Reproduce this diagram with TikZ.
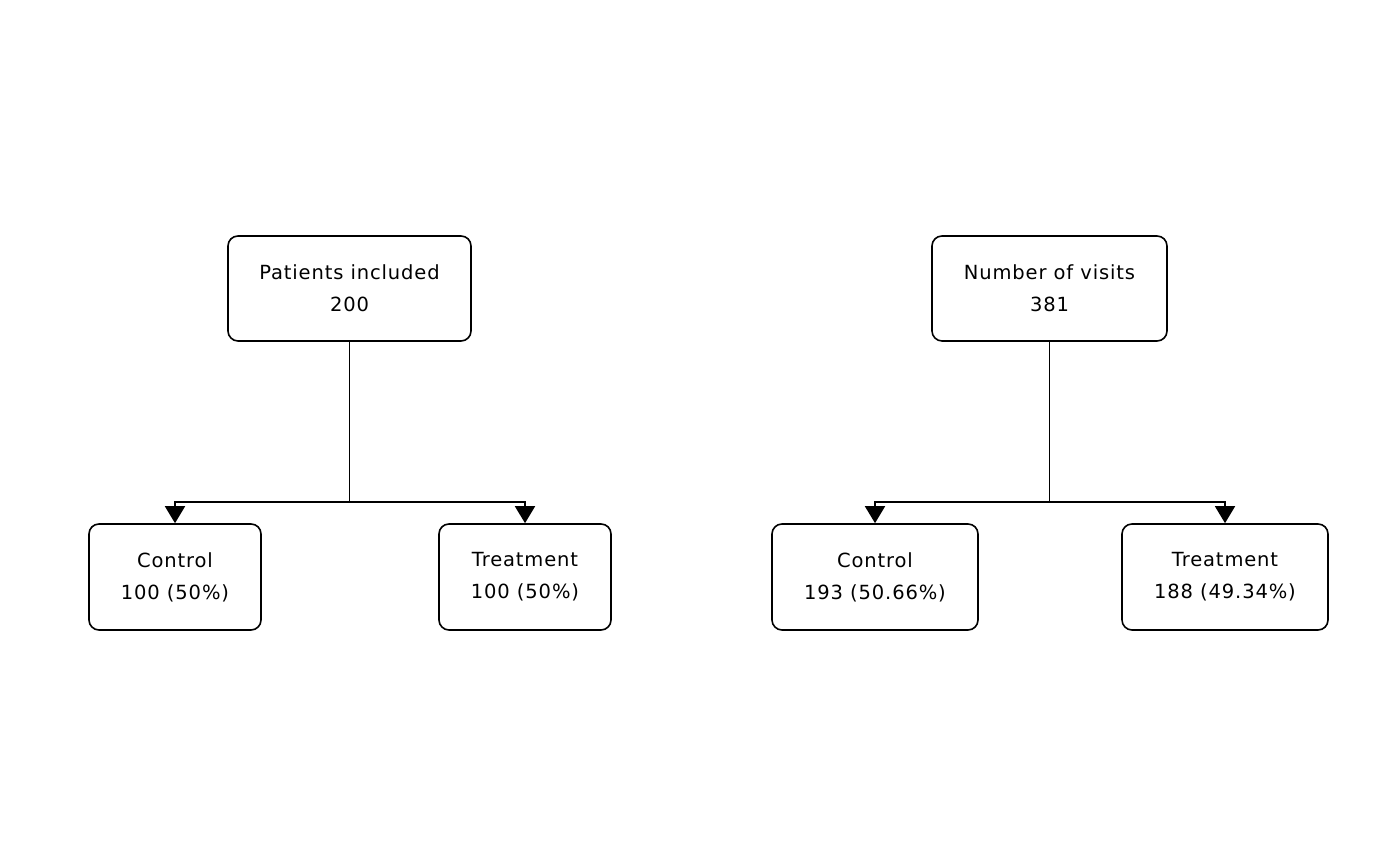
\documentclass[tikz,border=0pt]{standalone}
\usepackage{fontspec}
\setmainfont{DejaVu Sans}[LetterSpace=4.5]
\usetikzlibrary{arrows.meta}
\begin{document}
\begin{tikzpicture}[x=1pt,y=1pt,
  box/.style={draw,line width=1.6pt,rounded corners=10pt,align=center,
    font=\fontsize{19.5}{32}\selectfont,inner sep=0pt},
  conn/.style={line width=1.6pt},
  arr/.style={line width=1.6pt,-{Triangle[width=20pt,length=17pt]}}]
\useasboundingbox (0,0) rectangle (1400,866);
% left tree
\node[box,minimum width=243pt,minimum height=105pt] (p) at (349.5,577.5) {Patients included\\200};
\node[box,minimum width=172pt,minimum height=106pt] (pc) at (175,289) {Control\\100 (50\%)};
\node[box,minimum width=172pt,minimum height=106pt] (pt) at (525,289) {Treatment\\100 (50\%)};
\coordinate (pj) at (349.5,364);
\draw[conn] (p.south) -- (pj);
\draw[arr] (pj) -| (pc.north);
\draw[arr] (pj) -| (pt.north);
% right tree
\node[box,minimum width=235pt,minimum height=105pt] (v) at (1049.5,577.5) {Number of visits\\381};
\node[box,minimum width=206pt,minimum height=106pt] (vc) at (875,289) {Control\\193 (50.66\%)};
\node[box,minimum width=206pt,minimum height=106pt] (vt) at (1225,289) {Treatment\\188 (49.34\%)};
\coordinate (vj) at (1049.5,364);
\draw[conn] (v.south) -- (vj);
\draw[arr] (vj) -| (vc.north);
\draw[arr] (vj) -| (vt.north);
\end{tikzpicture}
\end{document}
